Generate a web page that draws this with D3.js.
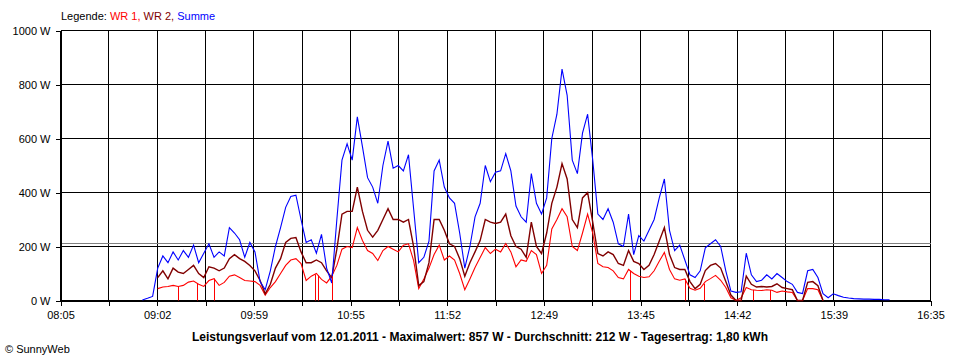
<!DOCTYPE html>
<html>
<head>
<meta charset="utf-8">
<script src="https://cdn.jsdelivr.net/npm/d3@7"></script>
<style>
  body { margin: 0; background: #fff; }
  text { font-family: "Liberation Sans", Arial, sans-serif; }
</style>
</head>
<body>
<svg id="chart" width="960" height="360"></svg>
<script>
// readings every 3 minutes, starting 08:53
const startTime = "08:53";
const stepMin = 3;

// WR 1 (red)
const wr1 = [
  null, null, null, 44, 50, 52, 56, 52, 56, 68,
  72, 60, 52, 74, 81, 56, 67, 90, 95, 85,
  74, 72, 70, 56, 20, 48, 70, 100, 130, 150,
  155, 137, 74, 90, 100, 78, 65, 90, 130, 190,
  200, 196, 270, 222, 185, 174, 148, 185, 200, 190,
  180, 205, 210, 148, 44, 80, 120, 170, 205, 150,
  165, 150, 100, 40, 80, 122, 159, 196, 174, 190,
  180, 211, 180, 125, 150, 145, 185, 170, 100, 130,
  265, 300, 340, 310, 200, 185, 250, 320, 250, 137,
  125, 122, 110, 85, 80, 115, 100, 90, 85, 88,
  110, 145, 178, 115, 80, 75, 80, 45, 38, 45,
  70, 81, 93, 75, 48, 10, 0, 10, 48, 40,
  38, 37, 40, 38, 30, 35, 32, 30, 0, 0,
  44, 44, 40, 0, null, null, null, null, null, null,
  null, null, null, null, null, null, null
];

// WR 2 (dark red)
const wr2 = [
  null, null, null, 85, 110, 80, 120, 105, 100, 115,
  130, 100, 85, 125, 120, 110, 120, 155, 170, 155,
  145, 130, 110, 74, 25, 60, 120, 155, 215, 230,
  233, 180, 140, 140, 150, 140, 110, 85, 190, 320,
  330, 330, 420, 330, 260, 235, 260, 300, 340, 300,
  300, 290, 300, 200, 55, 70, 140, 300, 300, 260,
  210, 200, 155, 90, 140, 180, 222, 300, 290, 285,
  290, 320, 240, 200, 190, 160, 290, 200, 174, 250,
  360, 420, 507, 450, 300, 270, 380, 400, 290, 174,
  165, 180, 170, 137, 130, 185, 145, 137, 115, 130,
  170, 220, 270, 170, 122, 115, 115, 70, 44, 60,
  111, 130, 137, 120, 70, 20, 0, 0, 90, 60,
  50, 52, 50, 52, 62, 48, 44, 40, 0, 0,
  67, 70, 55, 0, null, null, null, null, null, null,
  null, null, null, null, null, null, null
];

// Summe (blue)
const summe = [
  2, 8, 15, 120, 165, 140, 180, 150, 185, 160,
  205, 140, 175, 210, 160, 180, 165, 270, 250, 225,
  160, 215, 180, 70, 40, 110, 200, 270, 345, 385,
  390, 300, 215, 225, 175, 245, 120, 65, 300, 520,
  580, 520, 680, 570, 455, 420, 360, 500, 590, 490,
  500, 480, 540, 340, 140, 160, 220, 480, 520, 420,
  380, 360, 250, 120, 200, 310, 360, 500, 440, 475,
  480, 544, 480, 350, 310, 290, 470, 360, 320, 380,
  600, 690, 857, 760, 520, 470, 620, 690, 520, 320,
  300, 340, 290, 210, 200, 320, 170, 240, 220, 260,
  300, 380, 450, 260, 185, 205, 150, 95, 85, 110,
  195, 210, 225, 200, 110, 35, 30, 32, 175, 95,
  70, 75, 95, 80, 100, 85, 70, 60, 30, 26,
  110, 115, 85, 25, 10, 25, 18, 12, 9, 7,
  6, 5, 5, 4, 4, 3, 3
];

// short drops of WR 1 to zero
const wr1Drops = ["09:14", "09:25", "09:35", "10:34", "10:36", "10:44", "13:39", "14:11", "14:22", "14:51", "15:01"];

const timeLabels = ["08:05", "09:02", "09:59", "10:55", "11:52", "12:49", "13:45", "14:42", "15:39", "16:35"];
const yTicks = [0, 200, 400, 600, 800, 1000];
const average = 212;
const title = "Leistungsverlauf vom 12.01.2011 - Maximalwert: 857 W - Durchschnitt: 212 W - Tagesertrag: 1,80 kWh";

function toMin(s) { const p = s.split(":"); return +p[0] * 60 + +p[1]; }

const t0 = toMin(timeLabels[0]), t1 = toMin(timeLabels[timeLabels.length - 1]);
const start = toMin(startTime);

const svg = d3.select("#chart");

const x = d3.scaleLinear().domain([t0, t1]).range([60.5, 930.5]);
const y = d3.scaleLinear().domain([0, 1000]).range([300.5, 30.5]);

// 18 grid intervals, every second one labelled
const gridTicks = d3.range(19).map(k => t0 + k * (t1 - t0) / 18);

// grid
const grid = svg.append("g").attr("shape-rendering", "crispEdges");
grid.selectAll(".vg").data(gridTicks).enter().append("line")
  .attr("x1", d => x(d)).attr("x2", d => x(d))
  .attr("y1", y(1000)).attr("y2", y(0))
  .attr("stroke", "#000");
grid.selectAll(".hg").data(yTicks).enter().append("line")
  .attr("x1", x(t0)).attr("x2", x(t1))
  .attr("y1", d => y(d)).attr("y2", d => y(d))
  .attr("stroke", "#000");

// average line
svg.append("line")
  .attr("x1", x(t0)).attr("x2", x(t1))
  .attr("y1", Math.round(y(average)) + 0.5).attr("y2", Math.round(y(average)) + 0.5)
  .attr("stroke", "#808080")
  .attr("shape-rendering", "crispEdges");

// axes
const xAxis = svg.append("g")
  .attr("transform", "translate(0," + y(0) + ")")
  .call(d3.axisBottom(x).tickValues(gridTicks).tickSize(5).tickSizeOuter(0).tickPadding(6)
    .tickFormat((d, i) => i % 2 === 0 ? timeLabels[i / 2] : ""));
const yAxis = svg.append("g")
  .attr("transform", "translate(" + x(t0) + ",0)")
  .call(d3.axisLeft(y).tickValues(yTicks).tickSize(5).tickSizeOuter(0).tickPadding(5)
    .tickFormat(d => d + " W"));
[xAxis, yAxis].forEach(a => {
  a.attr("shape-rendering", "crispEdges");
  a.selectAll("line, path").attr("stroke", "#000");
  a.selectAll("text").attr("fill", "#000").style("font-size", "11px")
    .style("font-family", '"Liberation Sans", Arial, sans-serif');
});

// series
function series(vals) {
  return vals.map((v, i) => ({ t: start + i * stepMin, v: v }));
}
const line = d3.line()
  .defined(d => d.v != null)
  .x(d => x(d.t))
  .y(d => y(d.v));

const plot = [
  { name: "WR 1", vals: wr1, color: "#ff0000" },
  { name: "WR 2", vals: wr2, color: "#800000" },
  { name: "Summe", vals: summe, color: "#0000ff" }
];

plot.forEach(s => {
  svg.append("path")
    .datum(series(s.vals))
    .attr("d", line)
    .attr("fill", "none")
    .attr("stroke", s.color)
    .attr("stroke-width", s.name === "WR 2" ? 1.4 : 1.1);
});

// WR 1 drops
function valueAt(vals, t) {
  const f = (t - start) / stepMin, i = Math.floor(f);
  const a = vals[i], b = vals[i + 1];
  if (a == null || b == null) return a == null ? b : a;
  return a + (b - a) * (f - i);
}
svg.append("g").selectAll("line").data(wr1Drops).enter().append("line")
  .attr("x1", d => Math.round(x(toMin(d))) + 0.5)
  .attr("x2", d => Math.round(x(toMin(d))) + 0.5)
  .attr("y1", d => y(valueAt(wr1, toMin(d))))
  .attr("y2", y(0))
  .attr("stroke", "#ff0000");

// legend
const leg = svg.append("text").attr("x", 61).attr("y", 20).style("font-size", "11px");
leg.append("tspan").attr("fill", "#000").text("Legende: ");
leg.append("tspan").attr("fill", "#ff0000").text("WR 1, ");
leg.append("tspan").attr("fill", "#800000").text("WR 2, ");
leg.append("tspan").attr("fill", "#0000ff").text("Summe");

// title
svg.append("text")
  .attr("x", 480).attr("y", 341)
  .attr("text-anchor", "middle")
  .style("font-size", "12px")
  .style("font-weight", "bold")
  .text(title);

svg.append("text")
  .attr("x", 5).attr("y", 353)
  .style("font-size", "11px")
  .text("\u00A9 SunnyWeb");
</script>
</body>
</html>
